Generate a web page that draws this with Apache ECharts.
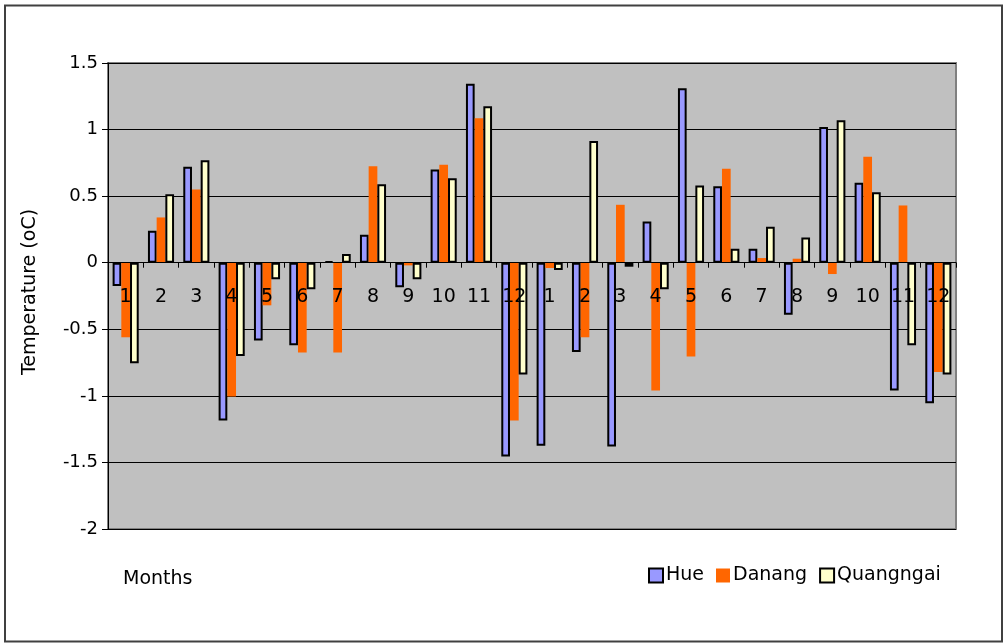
<!DOCTYPE html>
<html>
<head>
<meta charset="utf-8">
<script src="https://cdn.jsdelivr.net/npm/echarts@6/dist/echarts.min.js"></script>
<style>
html,body{margin:0;padding:0;background:#fff;}
#chart{width:1005px;height:644px;}
</style>
</head>
<body>
<div id="chart"></div>
<script>
var months = ['1','2','3','4','5','6','7','8','9','10','11','12','1','2','3','4','5','6','7','8','9','10','11','12'];
var hue = [-0.175, 0.24, 0.72, -1.185, -0.585, -0.62, 0.01, 0.21, -0.185, 0.70, 1.345, -1.455,
           -1.375, -0.67, -1.38, 0.31, 1.31, 0.575, 0.105, -0.39, 1.02, 0.60, -0.96, -1.055];
var danang = [-0.56, 0.34, 0.55, -1.005, -0.32, -0.675, -0.675, 0.725, -0.02, 0.735, 1.085, -1.185,
              -0.04, -0.56, 0.435, -0.96, -0.705, 0.705, 0.035, 0.03, -0.085, 0.795, 0.43, -0.82];
var quangngai = [-0.755, 0.515, 0.77, -0.70, -0.125, -0.20, 0.065, 0.59, -0.125, 0.635, 1.175, -0.84,
                 -0.055, 0.915, -0.03, -0.20, 0.58, 0.105, 0.27, 0.19, 1.07, 0.53, -0.62, -0.84];
var yTicks = {min: -2, max: 1.5, interval: 0.5};

var gridTop = 63, gridBottomPx = 529;
var zeroOffset = -(gridBottomPx - (gridTop + (gridBottomPx - gridTop) * yTicks.max / (yTicks.max - yTicks.min)));

var chart = echarts.init(document.getElementById('chart'), null, {renderer: 'canvas'});
var font = 'DejaVu Sans';
chart.setOption({
  animation: false,
  backgroundColor: '#ffffff',
  grid: {
    left: 108, top: gridTop, right: 49, bottom: 644 - gridBottomPx,
    show: true, backgroundColor: '#C0C0C0', borderColor: '#808080', borderWidth: 2
  },
  legend: {
    left: 643, top: 561,
    itemWidth: 14, itemHeight: 14, itemGap: 12,
    icon: 'rect',
    textStyle: {fontFamily: font, fontSize: 19, color: '#000', padding: [0, 0, 0, -2]},
    data: ['Hue', 'Danang', 'Quangngai']
  },
  graphic: [
    {type: 'rect', shape: {x: 5, y: 5.5, width: 997, height: 636},
     style: {fill: null, stroke: '#404040', lineWidth: 2}, z: 100},
    {type: 'text', left: 123, top: 570,
     style: {text: 'Months', font: '19px "DejaVu Sans"', fill: '#000'}}
  ],
  xAxis: {
    type: 'category',
    data: months,
    z: 10,
    offset: zeroOffset,
    axisLine: {onZero: false, lineStyle: {color: '#000', width: 1}},
    axisTick: {show: true, length: 5, lineStyle: {color: '#000'}},
    axisLabel: {fontFamily: font, fontSize: 19, color: '#000', margin: 25, interval: 0},
    splitLine: {show: false}
  },
  yAxis: {
    type: 'value',
    min: yTicks.min, max: yTicks.max, interval: yTicks.interval,
    name: 'Temperature (oC)',
    nameLocation: 'middle',
    nameGap: 68,
    nameRotate: 90,
    nameTextStyle: {fontFamily: font, fontSize: 19, color: '#000', padding: [0, 0, 0, 8]},
    axisLine: {show: true, lineStyle: {color: '#000', width: 1}},
    axisTick: {show: true, length: 6, lineStyle: {color: '#000'}},
    axisLabel: {fontFamily: font, fontSize: 18, color: '#000', margin: 10},
    splitLine: {show: true, lineStyle: {color: '#000', width: 1}}
  },
  series: [
    {name: 'Hue', type: 'bar', data: hue, barWidth: 8.7, barGap: '0%', barCategoryGap: '28%',
     itemStyle: {color: '#9999FF', borderColor: '#000', borderWidth: 2}},
    {name: 'Danang', type: 'bar', data: danang, barWidth: 8.7, barGap: '0%',
     itemStyle: {color: '#FF6600', borderWidth: 0}},
    {name: 'Quangngai', type: 'bar', data: quangngai, barWidth: 8.7, barGap: '0%',
     itemStyle: {color: '#FFFFCC', borderColor: '#000', borderWidth: 2}}
  ]
});
</script>
</body>
</html>
